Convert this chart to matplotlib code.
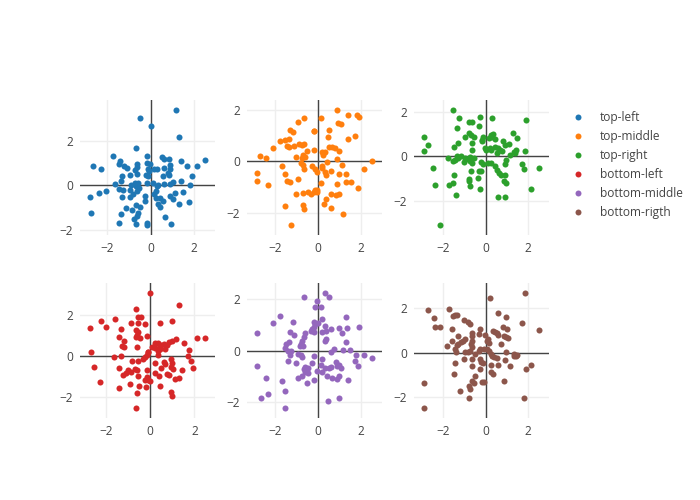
import matplotlib
matplotlib.use("Agg")
import matplotlib.pyplot as plt
from matplotlib.lines import Line2D

plt.rcParams['font.family'] = ['Open Sans', 'DejaVu Sans']

names = ["top-left", "top-middle", "top-right", "bottom-left", "bottom-middle", "bottom-rigth"]
colors = ["#1f77b4", "#ff7f0e", "#2ca02c", "#d62728", "#9467bd", "#8c564b"]
ticks = [-2, 0, 2]

# top-left
tl_x = [-0.5, 1.19, 0.0, 1.30, -0.69, -1.75, -1.41, -1.47, -1.23, -1.08, -2.64, -2.30, -0.63, -0.61,
        -0.73, -0.19, -0.16, -0.03, -0.11, 0.16, 0.31, 0.52, 0.64, 0.84, 0.91, 0.88, 0.63, 0.78, 1.42,
        1.70, 2.13, 2.52, 1.91, 1.41, 1.84, -1.31, -1.39, -0.97, -0.61, -1.64, -2.06, -2.38, -2.81,
        -2.77, -1.47, -1.28, -0.94, -1.31, -0.94, -0.89, -0.73, -0.58, -0.66, -0.55, -0.63, -0.81,
        -0.16, 0.13, -0.27, -0.27, -0.47, -0.69, -1.13, -1.36, -0.84, -0.58, -0.61, -0.77, -1.47,
        -0.66, -0.16, -0.19, 0.28, 0.36, 0.23, 0.17, 0.25, 0.33, 0.41, 0.44, 0.55, 0.64, 0.91, 0.67,
        0.95, 0.91, 1.02, 1.11, 1.30, 1.50, 1.77, 0.86, 0.56, -0.14, -0.23, 1.02, -0.06]
tl_y = [3.01, 3.37, 2.63, 2.16, 1.65, 1.32, 1.10, 0.94, 0.88, 0.79, 0.84, 0.72, 0.94, 0.81,
        0.69, 1.31, 0.99, 0.94, 0.74, 0.74, 0.71, 1.28, 1.16, 1.19, 0.91, 0.74, 0.79, 0.57, 1.10,
        0.84, 0.84, 1.12, 0.40, 0.21, 0.03, 0.43, 0.18, 0.46, 0.50, 0.07, -0.24, -0.34, -0.51,
        -1.25, -0.18, -0.22, -0.19, -0.51, -0.51, 0.03, 0.10, 0.10, -0.04, -0.12, -0.26, -0.38,
        0.10, 0.10, -0.46, -0.68, -0.97, -0.88, -1.03, -1.26, -1.12, -1.22, -1.37, -1.49, -1.68,
        -1.71, -1.66, -1.78, -0.04, 0.03, -0.24, -0.37, -0.56, -0.85, -0.97, -0.56, -0.71, 0.06,
        0.06, -1.40, -1.71, -0.49, -0.60, -0.34, -0.82, -0.32, -0.75, 0.47, 0.43, 0.43, 0.47, 0.15,
        0.65]

# top-middle
tm_x = [0.90, -0.63, 0.14, 1.42, 1.81, 1.92, -0.91, 0.94, 1.06, -1.31, -1.15, -0.16, -0.20, 0.54,
        1.73, 1.42, 0.46, -1.35, -1.50, -1.75, -2.09, -1.42, -1.34, -1.12, -0.88, -0.72, -0.63,
        -0.52, -0.71, -0.60, -0.72, -0.99, -0.20, 0.54, 0.66, 0.79, 0.98, 0.19, 0.35, 0.24, 0.87,
        -2.68, -2.41, 2.52, 0.43, -0.76, -0.68, -0.63, -1.67, -0.25, -0.13, -0.05, 0.19, 0.19, 0.35,
        0.38, 0.63, 1.10, 2.13, 0.98, 1.32, -2.83, -2.80, -1.51, -2.33, -1.42, -1.28, -0.94, 0.16,
        0.90, 1.32, 1.53, 1.84, -0.99, -0.68, -0.47, -0.31, -0.20, -0.13, -0.05, -0.02, 0.63, 0.82,
        0.98, 0.39, 0.30, -1.50, -0.71, -0.63, 0.63, 1.17, -1.23]
tm_y = [2.00, 1.70, 1.68, 1.81, 1.81, 1.72, 1.52, 1.48, 1.45, 1.23, 1.14, 1.19, 1.16, 1.23,
        0.97, 0.88, 0.93, 0.86, 0.81, 0.77, 0.52, 0.58, 0.55, 0.58, 0.68, 0.62, 0.67,
        0.39, 0.26, 0.17, 0.13, 0.15, 0.45, 0.55, 0.54, 0.52, 0.41, 0.36, 0.36, 0.26, 0.10,
        0.22, 0.13, 0.03, -0.04, -0.06, -0.15, -0.30, -0.17, -0.19, -0.28, -0.41, -0.17, -0.26, -0.41,
        -0.54, -0.36, -0.13, -0.28, -0.48, -0.48, -0.45, -0.75, -0.48, -0.93, -0.77, -0.81, -0.68, -0.86,
        -0.88, -0.80, -0.80, -1.03, -1.26, -1.23, -1.20, -1.26, -1.19, -1.12, -1.10, -1.19, -1.25, -1.32,
        -1.26, -1.45, -1.64, -1.74, -1.70, -1.85, -1.81, -2.04, -2.48]

# top-right
tr_x = [-1.55, -0.24, 0.32, -1.23, -0.77, -0.64, 1.92, -0.32, -1.36, -0.77, -0.67, -0.56, -0.96,
        -2.91, -2.72, -2.88, -1.28, -0.64, -1.49, -0.64, -0.19, -0.11, -0.16, 0.16, 0.24, 0.37, 0.32,
        0.43, 0.83, 1.28, 1.49, 1.09, 0.93, -0.03, 0.0, 0.19, 0.24, 0.45, 0.59, 0.67, 0.56, 0.80,
        1.17, 1.33, 1.44, 1.39, 1.84, -1.79, -1.36, -1.17, -1.28, -1.55, -1.44, -0.96, -1.01, -0.85,
        -0.72, -0.56, -0.64, -0.75, -0.21, -0.11, 0.11, 0.24, 0.43, 0.96, 0.93, 1.71, 1.81, 2.53,
        -2.48, -0.67, 0.53, 0.64, 0.72, -1.47, -0.32, -0.21, 0.93, -0.35, -0.77, -0.77, 0.85, 0.96,
        -1.55, -1.71, -2.40, -0.72, -0.24, 2.13, -1.39, 0.59, 0.91, -2.16]
tr_y = [2.11, 1.80, 1.73, 1.76, 1.58, 1.58, 1.65, 1.38, 1.28, 1.05, 0.95, 0.87, 0.86,
        0.87, 0.50, 0.23, 0.63, 0.60, 0.42, 0.27, 0.68, 0.86, 0.75, 0.83, 0.98, 1.01, 0.86,
        0.80, 0.68, 1.08, 0.83, 0.56, 0.50, 0.38, 0.30, 0.38, 0.30, 0.42, 0.38, 0.30, 0.15, 0.26,
        0.08, 0.20, 0.30, 0.15, 0.23, -0.08, 0.03, 0.0, -0.08, -0.20, -0.15, -0.08, -0.23, -0.12,
        -0.03, -0.08, -0.30, -0.20, -0.23, -0.33, -0.30, -0.30, -0.45, -0.15, -0.33, -0.35, -0.56, -0.53,
        -0.53, -0.68, -0.60, -0.75, -0.83, -0.83, -0.68, -0.68, -0.83, -0.98, -1.01, -1.10, -1.10, -1.20,
        -1.20, -1.31, -1.28, -1.35, -1.47, -1.46, -1.76, -1.85, -1.85, -3.11]

# bottom-left
bl_x = [0.0, 1.31, -0.65, -0.54, -0.42, -1.58, -2.23, -2.0, -2.74, -0.89, -0.54, -0.23, 0.42, 0.97,
        -1.34, -0.65, -0.57, -0.62, -0.15, -1.42, -1.2, -0.46, -0.66, -1.26, -1.18, -0.62, 0.08, 0.2,
        0.35, 0.49, 0.62, 0.74, 0.85, 0.97, 1.15, 1.51, 2.12, 2.49, 0.23, 0.38, 0.46, 0.66, 0.35,
        1.77, -0.12, -0.08, -2.69, -0.15, -0.23, -0.31, 0.35, -1.66, -1.34, 1.72, -0.85, -0.54, 0.23,
        0.62, 0.69, 0.92, 0.97, 1.85, -2.57, -1.43, -0.69, -0.58, -0.15, 0.2, 0.49, 0.92, 1.05, 1.42,
        1.92, -1.03, -1.08, -0.89, -1.23, -0.57, 0.77, 0.85, -0.15, 0.38, -0.92, -0.51, -0.18, 0.42,
        1.11, 1.31, -0.26, -0.12, 0.0, -2.28, -1.42, -0.62, 0.92, 1.0, -0.65]
bl_y = [3.07, 2.46, 2.30, 1.92, 1.90, 1.79, 1.71, 1.42, 1.36, 1.60, 1.60, 1.58, 1.60, 1.68,
        1.31, 1.28, 1.15, 1.04, 0.99, 0.91, 0.75, 0.88, 0.91, 0.48, 0.46, 0.43, 0.43, 0.64,
        0.62, 0.56, 0.59, 0.54, 0.67, 0.72, 0.83, 0.62, 0.88, 0.88, 0.38, 0.40, 0.35, 0.35, 0.27,
        0.30, 0.22, 0.19, 0.19, 0.03, -0.05, -0.13, 0.03, -0.05, -0.02, 0.0, -0.24, -0.26, -0.34,
        -0.29, -0.37, -0.13, -0.32, -0.26, -0.53, -0.58, -0.64, -0.66, -0.66, -0.8, -0.58, -0.53, -0.61, -0.69,
        -0.58, -0.69, -0.82, -0.77, -0.93, -0.96, -0.88, -0.93, -1.01, -0.98, -1.38, -1.46, -1.52, -1.46,
        -1.09, -1.06, -1.17, -1.17, -1.22, -1.25, -1.57, -1.81, -1.73, -1.92, -2.53]

# bottom-middle
bm_x = [0.35, -0.63, 0.54, -0.05, -0.13, 0.16, -1.75, 0.19, 1.29, -1.15, -2.06, -0.20, -0.13, 0.0,
        0.31, 0.98, 1.37, 1.92, 0.63, 1.10, -0.25, -0.17, -0.31, -0.16, 0.19, 0.38, -1.31, -1.10,
        -0.60, -2.80, -0.65, -0.72, -0.79, -0.83, -0.68, 0.31, 0.39, 1.32, -1.35, -1.46, -1.51, -1.39,
        -1.23, 0.74, 0.63, 1.17, 1.50, -0.94, -0.79, -1.28, -0.72, -0.20, 0.19, -1.39, -0.99, -0.28,
        0.85, 1.76, 2.13, 2.52, 1.73, 0.98, 0.90, 1.06, 1.84, -2.83, -0.60, -0.47, -0.65, -0.60,
        -0.47, 0.16, 0.31, 0.54, 0.63, -0.05, 0.19, -0.72, -0.94, 0.43, 0.66, 0.98, 0.90, 1.40,
        -2.41, -1.65, -0.20, -0.52, -1.50, -2.33, -2.65, 0.98, 0.47, -1.50]
bm_y = [2.25, 2.08, 2.08, 1.95, 1.69, 1.69, 1.36, 1.23, 1.30, 1.13, 1.06, 1.13, 1.04, 1.06,
        0.95, 0.87, 0.87, 0.91, 0.82, 0.68, 0.84, 0.91, 0.75, 0.71, 0.71, 0.75, 0.71, 0.61,
        0.69, 0.69, 0.52, 0.39, 0.26, 0.19, 0.16, 0.39, 0.45, 0.32, 0.32, 0.26, 0.10, 0.0,
        0.0, 0.06, -0.04, 0.03, 0.03, -0.13, -0.19, -0.19, -0.26, -0.22, -0.32, -0.39, -0.48, -0.48,
        -0.45, -0.19, -0.17, -0.29, -0.39, -0.56, -0.61, -0.69, -0.62, -0.62, -0.65, -0.69, -0.74, -0.84,
        -0.88, -0.58, -0.69, -0.69, -0.65, -0.78, -0.84, -1.0, -1.06, -1.01, -1.06, -1.01, -1.13, -1.14,
        -1.08, -1.17, -1.14, -1.27, -1.58, -1.69, -1.84, -1.84, -1.97, -2.25]

# bottom-right
br_x = [0.21, 1.84, -2.72, -1.71, -2.45, -2.40, -2.13, -1.55, -1.44, -1.36, -1.01, -0.83, -0.75,
        0.61, 0.96, 1.73, 2.53, -1.57, -0.24, 0.83, 1.01, 0.37, 0.45, 0.53, 0.61, -0.64, -0.64, -0.32,
        -0.03, -1.31, 0.85, 0.96, 1.07, -0.96, -1.07, -1.17, -1.57, -1.28, -1.36, -1.81, -0.64, -0.67,
        -0.64, 0.11, 0.05, 0.16, 0.72, -1.44, -1.39, -0.96, -0.85, -0.72, -0.32, -0.24, -0.08, 0.08,
        0.16, 0.24, 0.32, 0.40, 0.53, 0.96, 1.33, 1.44, 1.49, 1.36, -0.51, -1.01, -0.64, -0.24, -0.21,
        -0.11, -1.44, 0.27, 0.61, 0.93, 1.15, 2.13, -0.64, -0.24, 0.27, 0.37, 1.92, -1.47, -0.51,
        -0.64, -0.56, -0.16, -0.05, 0.88, -2.91, -0.80, -0.75, -1.20, -0.77, 1.81, -2.88]
br_y = [2.46, 2.69, 1.93, 1.97, 1.55, 1.18, 1.18, 1.64, 1.70, 1.70, 1.45, 1.37, 1.30,
        1.78, 1.60, 1.34, 1.04, 1.07, 1.07, 1.15, 1.07, 1.0, 0.93, 0.90, 0.81, 0.90, 0.75, 0.85,
        0.78, 0.75, 0.75, 0.70, 0.66, 0.63, 0.55, 0.48, 0.52, 0.40, 0.33, 0.30, 0.55, 0.40,
        0.25, 0.60, 0.51, 0.43, 0.40, 0.18, 0.03, 0.06, 0.03, 0.10, 0.10, 0.15, 0.18, 0.18,
        0.10, -0.04, -0.12, -0.19, -0.22, 0.03, -0.04, -0.12, -0.09, -0.15, -0.04, -0.27, -0.27, -0.27, -0.42,
        -0.45, -0.46, -0.54, -0.54, -0.34, -0.60, -0.54, -0.57, -0.72, -0.84, -0.94, -0.72, -0.94, -1.04,
        -1.24, -1.36, -1.31, -1.31, -1.24, -1.36, -1.49, -1.61, -1.72, -2.03, -2.03, -2.48]

xs = [tl_x, tm_x, tr_x, bl_x, bm_x, br_x]
ys = [tl_y, tm_y, tr_y, bl_y, bm_y, br_y]

fig = plt.figure(figsize=(7, 5), dpi=100)

lefts = [80, 247, 414]
tops = [100, 283]
w, h = 135, 135

for i in range(6):
    r, c = divmod(i, 3)
    ax = fig.add_axes([lefts[c] / 700, 1 - (tops[r] + h) / 500, w / 700, h / 500])
    ax.scatter(xs[i], ys[i], s=19, color=colors[i], linewidths=0, zorder=3)
    ax.margins(0.085)
    ax.set_xticks(ticks)
    ax.set_yticks(ticks)
    ax.grid(color="#eeeeee", lw=1, zorder=0)
    ax.set_axisbelow(True)
    ax.axhline(0, color="#444444", lw=1, zorder=2)
    ax.axvline(0, color="#444444", lw=1, zorder=2)
    for s in ax.spines.values():
        s.set_visible(False)
    ax.tick_params(length=0, labelsize=8.6, labelcolor="#444444", pad=5)

handles = [Line2D([], [], ls="none", marker="o", ms=4.3, mew=0, color=col) for col in colors]
fig.legend(handles, names, loc="upper left", bbox_to_anchor=(565 / 700, 1 - 105 / 500),
           frameon=False, fontsize=8.6, labelcolor="#444444", handlelength=1.2,
           handletextpad=1.2, labelspacing=0.5, borderpad=0)

fig.savefig("out.png", dpi=100)
